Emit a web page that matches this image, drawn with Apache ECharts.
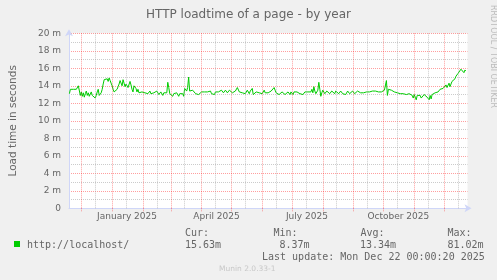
<!DOCTYPE html>
<html><head><meta charset="utf-8">
<script src="https://cdn.jsdelivr.net/npm/echarts@6/dist/echarts.min.js"></script>
<style>html,body{margin:0;padding:0;background:#f0f0f0}#c{width:497px;height:280px}</style>
</head><body><div id="c"></div>
<script>
// ---- data ----
const startDate = Date.UTC(2024, 10, 17);   // day index 0
const firstPointDay = 2;
const loadtime = [
13.1,13.6,13.5,13.6,13.6,13.5,13.7,13.6,13.7,14.0,
13.8,12.9,13.3,12.8,13.2,12.7,13.1,13.4,12.9,13.2,
12.8,13.0,13.3,12.9,12.7,13.1,12.6,12.9,13.3,13.6,
12.9,12.7,13.2,13.6,14.2,14.7,14.9,14.6,14.8,14.5,
14.9,14.6,14.3,14.0,13.6,13.3,13.4,13.2,13.6,13.9,
14.2,14.6,14.4,14.0,14.7,14.3,13.9,14.2,14.1,13.8,
14.0,14.5,14.1,13.6,13.3,14.0,14.2,13.7,13.3,13.6,
13.2,13.4,13.2,13.3,13.1,13.3,13.2,13.0,13.3,13.1,
13.2,13.4,13.1,13.3,13.0,13.2,13.3,13.1,13.4,13.2,
13.0,13.2,13.3,13.1,12.9,13.2,13.3,13.0,13.2,14.4,
13.8,13.1,13.0,13.2,12.8,13.1,13.3,12.9,13.2,13.0,
12.8,13.1,13.2,12.9,13.1,12.8,13.7,13.5,13.4,13.8,
15.0,13.4,13.3,13.4,13.5,13.4,13.6,13.1,13.2,13.1,
13.0,13.2,13.1,13.3,13.2,13.1,13.3,13.2,13.4,13.3,
13.1,13.3,13.4,13.1,13.2,12.9,13.0,13.3,13.2,13.4,
13.3,13.2,13.4,13.5,13.3,13.2,13.4,13.5,13.3,13.2,
13.3,13.5,13.6,13.3,13.2,13.3,13.1,13.4,13.3,13.8,
13.6,13.3,13.2,13.4,13.2,13.0,13.3,13.1,13.2,13.5,
13.3,13.1,13.4,13.5,13.7,13.0,13.2,13.1,13.3,13.3,
13.5,13.2,13.4,13.2,13.1,13.3,13.5,13.2,13.4,13.3,
13.2,13.3,13.1,13.4,13.3,13.4,13.8,13.5,13.2,13.1,
13.1,13.0,13.2,12.9,13.3,13.1,13.2,13.0,12.9,13.2,
13.3,13.1,13.0,13.3,13.2,13.0,13.3,13.2,13.1,13.3,
13.2,13.4,13.1,13.3,13.2,13.0,13.2,13.3,13.1,13.4,
13.3,13.2,13.4,13.3,13.6,13.2,13.9,13.4,13.1,13.3,
13.5,14.4,13.6,12.8,13.2,13.5,13.3,13.1,13.3,13.4,
13.2,13.3,13.1,13.3,13.4,13.2,13.3,13.1,13.4,13.2,
13.3,13.1,13.2,13.4,13.3,13.1,13.2,13.3,13.0,13.2,
13.4,13.3,13.1,13.3,13.2,13.4,13.3,13.1,13.3,13.2,
13.4,13.3,13.5,13.2,13.3,13.4,13.2,13.3,13.1,13.3,
13.2,13.4,13.3,13.1,13.3,13.4,13.2,13.3,13.4,13.2,
13.4,13.3,13.5,13.4,13.3,13.5,13.4,13.5,13.6,14.6,
12.9,13.6,13.8,13.6,13.5,13.4,13.5,13.3,13.4,13.2,
13.2,13.1,13.2,13.1,13.2,13.0,13.1,13.1,13.2,13.0,
13.1,13.0,13.1,13.2,13.0,12.9,12.6,13.0,12.7,12.4,
12.9,12.7,12.8,12.9,12.6,12.8,12.7,13.0,12.8,12.9,
12.7,12.8,12.4,12.9,12.5,13.0,13.2,13.1,13.2,13.1,
13.4,13.3,13.5,13.6,13.5,13.8,13.7,13.5,13.9,14.1,
13.8,14.0,14.3,13.9,14.1,14.5,14.3,14.6,14.8,15.1,
15.2,15.4,15.5,15.6,15.9,16.0,15.7,15.5,15.8,15.7
];
const monthStarts = ['2024-12-01','2025-01-01','2025-02-01','2025-03-01','2025-04-01','2025-05-01','2025-06-01','2025-07-01','2025-08-01','2025-09-01','2025-10-01','2025-11-01','2025-12-01'];
const midMonths = ['2024-12-15','2025-01-15','2025-02-15','2025-03-15','2025-04-15','2025-05-15','2025-06-15','2025-07-15','2025-08-15','2025-09-15','2025-10-15','2025-11-15','2025-12-15'];
const xLabelDates = ['2025-01-16','2025-04-16','2025-07-16','2025-10-16'];
const xLabels = ['January 2025','April 2025','July 2025','October 2025'];
const yTicks = [0,2,4,6,8,10,12,14,16,18,20];
const seriesName = 'http://localhost/';
const statHeads = ['Cur:','Min:','Avg:','Max:'];
const statVals = ['15.63m','8.37m','13.34m','81.02m'];
const lastUpdate = 'Last update: Mon Dec 22 00:00:20 2025';

// ---- helpers ----
const dayIdx = s => (Date.parse(s + 'T00:00:00Z') - startDate) / 86400000;
const labelPos = xLabelDates.map(dayIdx);
const FONT = '#666666';
const MONO = 'DejaVu Sans Mono';

const chart = echarts.init(document.getElementById('c'), null, {renderer: 'canvas'});
chart.setOption({
  animation: false,
  backgroundColor: '#f0f0f0',
  title: {
    text: 'HTTP loadtime of a page - by year', left: 'center', top: 4,
    textStyle: {fontFamily: 'DejaVu Sans', fontSize: 12, fontWeight: 'normal', color: FONT}
  },
  grid: {left: 66.5, top: 33.3, width: 401, height: 175, show: true, backgroundColor: '#ffffff', borderWidth: 0},
  xAxis: {
    type: 'value', min: 1.6, max: 402.6,
    axisLine: {show: true, lineStyle: {color: '#CFD6F8', width: 1}, symbol: ['none', 'arrow'], symbolSize: [6, 7], symbolOffset: [0, 4]},
    axisTick: {show: true, customValues: monthStarts.map(dayIdx), length: 3, lineStyle: {color: 'rgba(255,0,0,0.38)', type: [1, 1]}},
    axisLabel: {
      customValues: labelPos, margin: 4, fontFamily: 'DejaVu Sans', fontSize: 9, color: FONT,
      formatter: v => xLabels[labelPos.indexOf(v)] || ''
    },
    splitLine: {show: false}
  },
  yAxis: {
    type: 'value', min: yTicks[0], max: yTicks[yTicks.length - 1], interval: 2,
    name: 'Load time in seconds', nameLocation: 'middle', nameGap: 50,
    nameTextStyle: {fontFamily: 'DejaVu Sans', fontSize: 10.5, color: FONT},
    axisLine: {show: true, lineStyle: {color: '#CFD6F8', width: 1}, symbol: ['none', 'arrow'], symbolSize: [6, 7], symbolOffset: [0, 4]},
    axisTick: {show: false},
    axisLabel: {margin: 8, fontFamily: 'DejaVu Sans', fontSize: 9, color: FONT, formatter: v => v === 0 ? '0' : v + ' m'},
    splitLine: {show: true, lineStyle: {color: 'rgba(255,0,0,0.38)', type: [1, 1], width: 1}},
    minorTick: {show: false, splitNumber: 2},
    minorSplitLine: {show: true, lineStyle: {color: 'rgba(160,160,160,0.55)', type: [1, 1], width: 1}}
  },
  series: [
    {
      type: 'line', z: 1, data: [], silent: true,
      markLine: {
        silent: true, symbol: 'none', label: {show: false}, animation: false,
        data: [
          ...midMonths.map(d => ({xAxis: dayIdx(d), lineStyle: {color: 'rgba(160,160,160,0.55)', type: [1, 1], width: 1}})),
          ...monthStarts.map(d => ({xAxis: dayIdx(d), lineStyle: {color: 'rgba(255,0,0,0.38)', type: [1, 1], width: 1}}))
        ]
      }
    },
    {
      name: seriesName, type: 'line', z: 3, showSymbol: false, symbol: 'none',
      data: loadtime.map((v, j) => [j + firstPointDay, v]),
      lineStyle: {color: '#00cc00', width: 1}, itemStyle: {color: '#00cc00'}
    }
  ],
  graphic: [
    {type: 'text', x: 493, y: 5, rotation: -Math.PI / 2, style: {text: 'RRDTOOL / TOBI OETIKER', fontFamily: 'DejaVu Sans', fontSize: 8, fill: '#bbbbbb', textAlign: 'left', textVerticalAlign: 'middle'}},
    {type: 'rect', shape: {x: 14, y: 241, width: 6, height: 6}, style: {fill: '#00cc00'}},
    {type: 'text', x: 27, y: 245, style: {text: seriesName, fontFamily: MONO, fontSize: 10, fill: FONT, textVerticalAlign: 'middle'}},
    {type: 'text', x: 185, y: 233.5, style: {text: statHeads[0], fontFamily: MONO, fontSize: 10, fill: FONT, textVerticalAlign: 'middle'}},
    {type: 'text', x: 185, y: 245, style: {text: statVals[0], fontFamily: MONO, fontSize: 10, fill: FONT, textVerticalAlign: 'middle'}},
    {type: 'text', x: 273.5, y: 233.5, style: {text: statHeads[1], fontFamily: MONO, fontSize: 10, fill: FONT, textVerticalAlign: 'middle'}},
    {type: 'text', x: 279.5, y: 245, style: {text: statVals[1], fontFamily: MONO, fontSize: 10, fill: FONT, textVerticalAlign: 'middle'}},
    {type: 'text', x: 360.5, y: 233.5, style: {text: statHeads[2], fontFamily: MONO, fontSize: 10, fill: FONT, textVerticalAlign: 'middle'}},
    {type: 'text', x: 360, y: 245, style: {text: statVals[2], fontFamily: MONO, fontSize: 10, fill: FONT, textVerticalAlign: 'middle'}},
    {type: 'text', x: 447.5, y: 233.5, style: {text: statHeads[3], fontFamily: MONO, fontSize: 10, fill: FONT, textVerticalAlign: 'middle'}},
    {type: 'text', x: 447.5, y: 245, style: {text: statVals[3], fontFamily: MONO, fontSize: 10, fill: FONT, textVerticalAlign: 'middle'}},
    {type: 'text', x: 262, y: 257.5, style: {text: lastUpdate, fontFamily: MONO, fontSize: 10, fill: FONT, textVerticalAlign: 'middle'}},
    {type: 'text', x: 219, y: 269.5, style: {text: 'Munin 2.0.33-1', fontFamily: 'DejaVu Sans', fontSize: 7.5, fill: '#c8c8c8', textVerticalAlign: 'middle'}}
  ]
});
</script></body></html>
